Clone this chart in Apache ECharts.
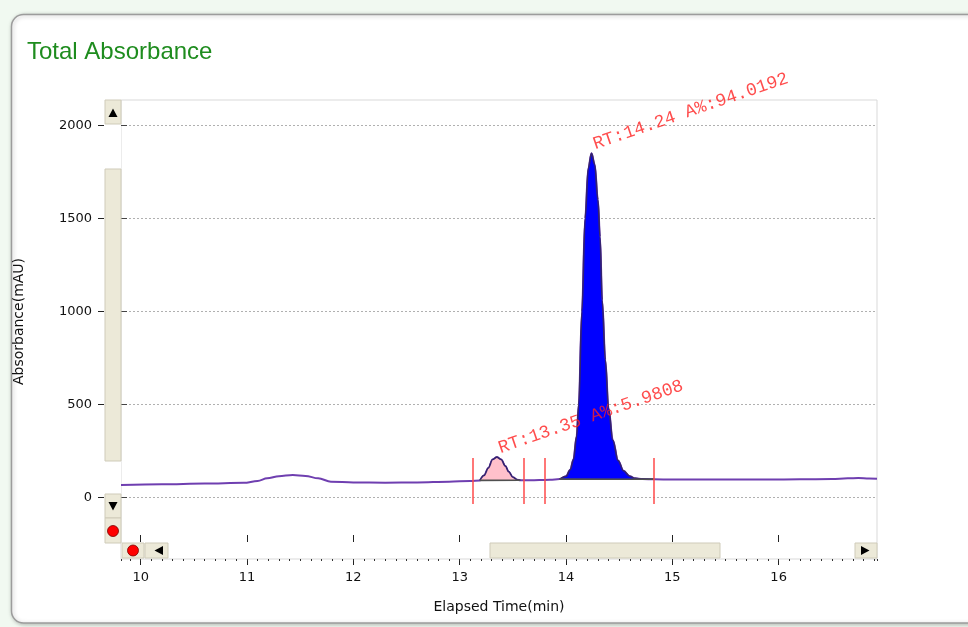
<!DOCTYPE html>
<html>
<head>
<meta charset="utf-8">
<script src="https://cdn.jsdelivr.net/npm/echarts@6/dist/echarts.min.js"></script>
<style>
  html, body { margin: 0; padding: 0; background: #f1f9f1; }
  #chart { width: 968px; height: 627px; }
</style>
</head>
<body>
<div id="chart"></div>
<script>
// Chromatogram trace: elapsed time (min) and total absorbance (mAU)
const times = [
  9.815, 10.2, 10.6, 10.97, 11.1, 11.19, 11.3, 11.43, 11.55, 11.67, 11.79,
  12.0, 12.3, 12.6, 12.9, 13.1, 13.19,
  13.23, 13.27, 13.31, 13.35, 13.39, 13.43, 13.46, 13.5, 13.54, 13.57,
  13.65, 13.75, 13.85, 13.94,
  14.0, 14.04, 14.07, 14.1, 14.12, 14.15, 14.18, 14.21, 14.24, 14.27, 14.3,
  14.32, 14.34, 14.37, 14.4, 14.44, 14.49, 14.54, 14.6, 14.65, 14.72, 14.83,
  15.0, 15.3, 15.6, 15.9, 16.2, 16.5, 16.65, 16.75, 16.85, 16.925
];
const absorbance = [
  68, 72, 76, 80, 90, 104, 116, 122, 117, 104, 86,
  82, 81, 82, 86, 90, 93,
  120, 160, 205, 218, 205, 170, 140, 110, 97, 94,
  94, 95, 96, 100,
  115, 150, 205, 330, 500, 1000, 1500, 1770, 1850, 1790, 1600,
  1400, 1060, 740, 480, 310, 200, 145, 115, 104, 100, 99,
  98, 98, 98, 98, 99, 100, 104, 106, 103, 102
];

// Integrated peaks: start/end time, baseline level, apex, area percentage
const peakStart = [13.19, 13.94];
const peakEnd = [13.57, 14.83];
const peakBaseStart = [93, 100];
const peakBaseEnd = [94, 99];
const peakRT = [13.35, 14.24];
const peakApex = [218, 1850];
const peakAreaPct = ['5.9808', '94.0192'];
const peakFill = ['#ffc0cb', '#0000ff'];

// Integration event markers (time) and their vertical extent (mAU)
const markerTimes = [13.12, 13.6, 13.8, 14.83];
const markerLow = -34;
const markerHigh = 213;

// Axis ticks
const xTicks = [10, 11, 12, 13, 14, 15, 16];
const yTicks = [0, 500, 1000, 1500, 2000];
const xMin = 9.815, xMax = 16.925;
const yMin = -329, yMax = 2136;

const trace = times.map((t, i) => [t, absorbance[i]]);

const peakSeries = [];
peakStart.forEach((s, i) => {
  const seg = trace.filter(p => p[0] >= s - 1e-9 && p[0] <= peakEnd[i] + 1e-9);
  peakSeries.push({
    type: 'line', name: 'peak' + (i + 1), data: seg, smooth: 0.35, smoothMonotone: 'x',
    showSymbol: false, symbol: 'none', z: 3,
    lineStyle: { color: '#34236e', width: 1.6 },
    areaStyle: { color: peakFill[i], opacity: 1, origin: peakBaseStart[i] }
  });
  peakSeries.push({
    type: 'line', name: 'base' + (i + 1),
    data: [[s, peakBaseStart[i]], [peakEnd[i], peakBaseEnd[i]]],
    showSymbol: false, symbol: 'none', z: 4,
    lineStyle: { color: '#505050', width: 1.6 }
  });
});

const markerLines = markerTimes.map(t => [{ coord: [t, markerLow] }, { coord: [t, markerHigh] }]);

const labelData = peakRT.map((rt, i) => ({
  value: [rt, peakApex[i]],
  text: 'RT:' + rt.toFixed(2) + ' A%:' + peakAreaPct[i]
}));

const beige = '#ece9d8';
const beigeEdge = '#cfcbb9';
function btn(x, y, w, h) {
  return { type: 'rect', z: 100, shape: { x: x, y: y, width: w, height: h },
    style: { fill: beige, stroke: beigeEdge, lineWidth: 1 } };
}
function tri(pts) {
  return { type: 'polygon', z: 101, shape: { points: pts }, style: { fill: '#000' } };
}
function dot(cx, cy) {
  return { type: 'circle', z: 101, shape: { cx: cx, cy: cy, r: 5.5 },
    style: { fill: '#ff0000', stroke: '#7a0000', lineWidth: 0.8 } };
}

const axisFont = 'DejaVu Sans';

const option = {
  animation: false,
  backgroundColor: 'transparent',
  title: {
    text: 'Total Absorbance', left: 22, top: 35,
    textStyle: { color: '#1e8c1e', fontSize: 24, fontWeight: 'normal', fontFamily: 'Liberation Sans' }
  },
  graphic: [
    { type: 'rect', z: -10, shape: { x: 11.5, y: 14.5, width: 1000, height: 608.5, r: 12 },
      style: { fill: '#ffffff', stroke: '#9c9c9c', lineWidth: 1.5, shadowBlur: 4, shadowColor: 'rgba(0,0,0,0.25)', shadowOffsetX: 1, shadowOffsetY: 1 } },
    // vertical scroll bar
    { type: 'rect', z: 99, shape: { x: 105, y: 100, width: 16, height: 443 }, style: { fill: '#ffffff' } },
    btn(105, 100, 16, 24), tri([[108.5, 117], [117.5, 117], [113, 108.5]]),
    btn(105, 169, 16, 292),
    btn(105, 494, 16, 24), tri([[108.5, 502], [117.5, 502], [113, 510.5]]),
    btn(105, 518, 16, 25), dot(113, 531),
    // horizontal scroll bar
    { type: 'rect', z: 99, shape: { x: 121, y: 543, width: 756, height: 15 }, style: { fill: '#ffffff' } },
    btn(122, 543, 22, 15), dot(133, 550.5),
    btn(145, 543, 23, 15), tri([[163, 546], [163, 555], [154.5, 550.5]]),
    btn(490, 543, 230, 15),
    btn(855, 543, 22, 15), tri([[861, 546], [861, 555], [869.5, 550.5]])
  ],
  grid: {
    left: 121, right: 91, top: 100, bottom: 68,
    show: true, backgroundColor: '#ffffff', borderColor: '#d9d9d9', borderWidth: 1
  },
  xAxis: [
    {
      type: 'value', min: xMin, max: xMax, minInterval: 1, maxInterval: 1, splitNumber: 7,
      position: 'bottom',
      axisLine: { show: false, onZero: false },
      axisTick: { show: true, length: 6, customValues: xTicks, lineStyle: { color: '#222', width: 1 } },
      axisLabel: { customValues: xTicks, margin: 12, color: '#111', fontSize: 13, fontFamily: axisFont },
      splitLine: { show: false },
      name: 'Elapsed Time(min)', nameLocation: 'middle', nameGap: 41,
      nameTextStyle: { color: '#111', fontSize: 14, fontFamily: axisFont }
    },
    {
      type: 'value', min: xMin, max: xMax, minInterval: 0.1, maxInterval: 0.1, splitNumber: 71,
      position: 'bottom',
      axisLine: { show: false, onZero: false },
      axisTick: { show: true, length: 2, lineStyle: { color: '#333', width: 1 } },
      axisLabel: { show: false },
      splitLine: { show: false }
    },
    {
      type: 'value', min: xMin, max: xMax, minInterval: 1, maxInterval: 1, splitNumber: 7,
      position: 'bottom', offset: -17,
      axisLine: { show: false, onZero: false },
      axisTick: { show: true, inside: true, length: 7, customValues: xTicks, lineStyle: { color: '#222', width: 1 } },
      axisLabel: { show: false },
      splitLine: { show: false }
    }
  ],
  yAxis: [
    {
      type: 'value', min: yMin, max: yMax, minInterval: 500, maxInterval: 500, splitNumber: 5,
      position: 'left', offset: 17,
      axisLine: { show: false, onZero: false },
      axisTick: { show: true, length: 6, customValues: yTicks, lineStyle: { color: '#222', width: 1 } },
      axisLabel: { customValues: yTicks, margin: 12, color: '#111', fontSize: 13, fontFamily: axisFont,
        formatter: v => String(v) },
      splitLine: { show: true, lineStyle: { color: '#b0b0b0', type: [2, 2], width: 1 } },
      name: 'Absorbance(mAU)', nameLocation: 'middle', nameGap: 78,
      nameTextStyle: { color: '#111', fontSize: 14, fontFamily: axisFont, padding: [0, 0, 0, 16] }
    },
    {
      type: 'value', min: yMin, max: yMax, minInterval: 500, maxInterval: 500, splitNumber: 5,
      position: 'left', offset: 0,
      axisLine: { show: false, onZero: false },
      axisTick: { show: true, inside: true, length: 6, customValues: yTicks, lineStyle: { color: '#444', width: 1 } },
      axisLabel: { show: false },
      splitLine: { show: false }
    }
  ],
  series: [
    {
      type: 'line', name: 'trace', data: trace, smooth: 0.35, smoothMonotone: 'x',
      showSymbol: false, symbol: 'none', z: 2,
      lineStyle: { color: '#6f3fb0', width: 2 },
      markLine: {
        silent: true, symbol: ['none', 'none'], label: { show: false },
        lineStyle: { color: '#ff4a4a', width: 1.5, type: 'solid' },
        data: markerLines
      }
    },
    ...peakSeries,
    {
      type: 'scatter', name: 'labels', symbolSize: 0, z: 6,
      data: labelData,
      label: {
        show: true, position: [5, 0], align: 'left', verticalAlign: 'bottom', rotate: 19,
        color: '#ff2020', fontSize: 18, fontFamily: 'Liberation Mono',
        formatter: p => p.data.text
      }
    }
  ]
};

const chart = echarts.init(document.getElementById('chart'), null, { renderer: 'canvas' });
chart.setOption(option);
</script>
</body>
</html>
